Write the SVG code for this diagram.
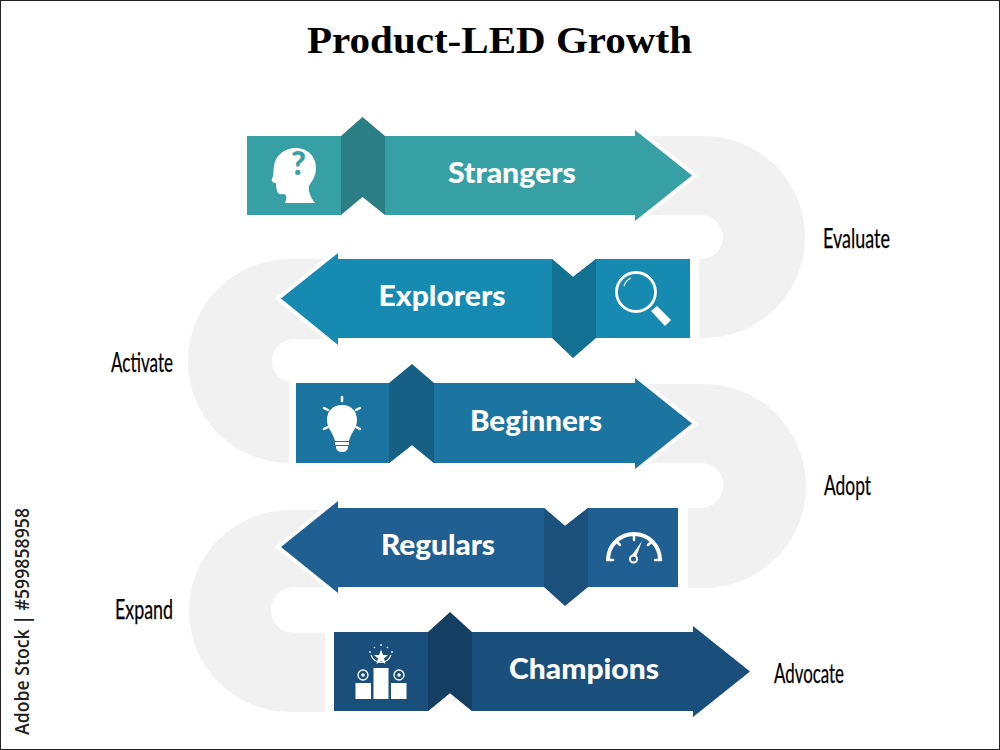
<svg xmlns="http://www.w3.org/2000/svg" width="1000" height="750" viewBox="0 0 1000 750">
<style>
.band{fill:#f1f1f1}
.gap{fill:#fff}
.halo{stroke:#fff;stroke-width:8;stroke-linejoin:miter;fill:#fff}
.lbl{font-family:"Lato","Liberation Sans",sans-serif;font-weight:900;font-size:28px;fill:#fff;text-anchor:middle}
.side{font-family:"Lato","Liberation Sans",sans-serif;font-size:26px;fill:#000;stroke:#000;stroke-width:.25}
.ic{fill:#fff}
.ln{fill:none;stroke:#fff;stroke-width:2.500;stroke-linecap:round}
</style>
<rect x="0" y="0" width="1000" height="750" fill="#fff"/>
<g id="connectors">
<path class="band" d="M640 136H704A101 101 0 0 1 704 338H699V259H701A22 22 0 0 0 701 215H640Z"/>
<path class="band" d="M345 259H290A102 102 0 0 0 290 463H289V383H294A22 22 0 0 1 294 339H345Z"/>
<path class="band" d="M640 384H704A102 102 0 0 1 704 588H688V508H701A22.500 22.500 0 0 0 701 463H640Z"/>
<path class="band" d="M345 510H290A101 101 0 0 0 290 712H325V633H294A23 23 0 0 1 294 587H345Z"/>
</g>
<g id="title"><text x="499.500" y="53" text-anchor="middle" font-family="'Liberation Serif',serif" font-weight="700" font-size="38" textLength="385" lengthAdjust="spacingAndGlyphs" fill="#000">Product-LED Growth</text></g>

<g id="strangers">
<polygon class="halo" points="600,136 635,136 635,130 692,175.500 635,221 635,215 600,215"/>
<polygon fill="#37a0a4" points="247,136 341,136 341,215 247,215"/>
<polygon fill="#37a0a4" points="385,136 635,136 635,130 692,175.500 635,221 635,215 385,215"/>
<polygon fill="#2b7f84" points="341,136 362.500,117 385,136 385,215 362.500,197 341,215"/>
<path class="ic" d="M272 179C274 175 273 172 274 166C275 155 285 148 296 148C308 148 316 157 316 168C316 177 311 182 309 186C308 190 310 197 315 203H285C287 198 287 195 284 194C280 195 277 194 277 190C276 188 276 186 276 183C273 183 271 181 272 179Z"/>
<text x="298.500" y="175" text-anchor="middle" font-family="Lato,'Liberation Sans',sans-serif" font-weight="900" font-size="32" fill="#37a0a4">?</text>
<text class="lbl" x="512" y="183" textLength="128" lengthAdjust="spacingAndGlyphs">Strangers</text>
</g>

<g id="explorers">
<polygon class="halo" points="690,259 338,259 338,253 281,298.500 338,345 338,338 690,338"/>
<polygon fill="#168ab0" points="690,259 338,259 338,253 281,298.500 338,345 338,338 690,338"/>
<polygon fill="#fff" points="552,259 573,277 596,259"/>
<polygon fill="#127093" points="552,259 573,277 596,259 596,338 573,358 552,338"/>
<circle cx="636" cy="292" r="19.500" fill="none" stroke="#fff" stroke-width="2.800"/>
<path d="M624 286A13 13 0 0 1 631 278" fill="none" stroke="#fff" stroke-width="1.200"/>
<polygon class="ic" points="651,311 657,306 671,320 665,326"/>
<text class="lbl" x="442" y="306" textLength="127" lengthAdjust="spacingAndGlyphs">Explorers</text>
</g>

<g id="beginners">
<polygon class="halo" points="296,383 389,383 412,364 434,383 635,383 635,378 692,423.500 635,469 635,463 296,463"/>
<polygon fill="#1b75a0" points="296,383 635,383 635,378 692,423.500 635,469 635,463 296,463"/>
<polygon fill="#fff" points="389,463 412,445 434,463"/>
<polygon fill="#165f85" points="389,383 412,364 434,383 434,463 412,445 389,463"/>
<path class="ic" d="M342 405C351 405 357 411 357 420C357 429 351 432 349 441H335C333 432 327 429 327 420C327 411 333 405 342 405Z"/>
<rect class="ic" x="335" y="442" width="14" height="3"/>
<path class="ic" d="M336 446H348V448C347 451 345 452 342 452C339 452 337 451 336 448Z"/>
<path class="ln" d="M342 397V401M324 408L328 410M360 408L356 410M324 429L328 427M360 429L356 427" stroke-width="2"/>
<text class="lbl" x="536" y="431" textLength="132" lengthAdjust="spacingAndGlyphs">Beginners</text>
</g>

<g id="regulars">
<polygon class="halo" points="678,508 338,508 338,501 281,547 338,593 338,587 678,587"/>
<polygon fill="#1f5f92" points="678,508 338,508 338,501 281,547 338,593 338,587 678,587"/>
<polygon fill="#fff" points="544,508 565,526 588,508"/>
<polygon fill="#1a5079" points="544,508 565,526 588,508 588,587 565,606 544,587"/>
<path d="M608 560A26 26 0 0 1 660 560" fill="none" stroke="#fff" stroke-width="4"/>
<path class="ln" d="M607 560H613M655 560H661M634 534V540M616 541L620 545M652 541L648 545" stroke-linecap="butt"/>
<polygon class="ic" points="642,541 636,557 632,555"/>
<circle cx="633.500" cy="559" r="3.500" fill="#1f5f92" stroke="#fff" stroke-width="2"/>
<text class="lbl" x="438" y="555" textLength="114" lengthAdjust="spacingAndGlyphs">Regulars</text>
</g>

<g id="champions">
<polygon class="halo" points="334,632 428,632 450,612 472,632 693,632 693,626 750,671.500 693,717 693,711 334,711"/>
<polygon fill="#1a4f7c" points="334,632 693,632 693,626 750,671.500 693,717 693,711 334,711"/>
<polygon fill="#fff" points="428,711 450,693 472,711"/>
<polygon fill="#153f62" points="428,632 450,612 472,632 472,711 450,693 428,711"/>
<polygon class="ic" points="381,649.500 383,655 388,655 384,658.500 385.500,664 381,661 376.500,664 378,658.500 374,655 379,655"/>
<path d="M371 655A10.500 10.500 0 0 0 391 655M370 653V651M392 653V651M374 648L375 647M388 648L387 647M381 644V646" fill="none" stroke="#fff" stroke-width="1.300"/>
<rect class="ic" x="373.500" y="668" width="15" height="31"/>
<rect class="ic" x="355.500" y="683" width="15.500" height="16"/>
<rect class="ic" x="391" y="683" width="15.500" height="16"/>
<circle cx="363" cy="675" r="5" fill="none" stroke="#fff" stroke-width="1.300"/><circle cx="363" cy="675" r="1.800" class="ic"/>
<circle cx="399" cy="675" r="5" fill="none" stroke="#fff" stroke-width="1.300"/><circle cx="399" cy="675" r="1.800" class="ic"/>
<text class="lbl" x="584" y="679" textLength="150" lengthAdjust="spacingAndGlyphs">Champions</text>
</g>

<g id="labels">
<text class="side" x="823" y="248" textLength="67" lengthAdjust="spacingAndGlyphs">Evaluate</text>
<text class="side" x="111" y="372" textLength="62" lengthAdjust="spacingAndGlyphs">Activate</text>
<text class="side" x="824" y="495" textLength="47" lengthAdjust="spacingAndGlyphs">Adopt</text>
<text class="side" x="115" y="619" textLength="58" lengthAdjust="spacingAndGlyphs">Expand</text>
<text class="side" x="774" y="683" textLength="70" lengthAdjust="spacingAndGlyphs">Advocate</text>
</g>
<text transform="translate(29,735) rotate(-90)" x="0" y="0" font-family="'Open Sans','Liberation Sans',sans-serif" font-weight="600" font-size="19" fill="#222" textLength="227" lengthAdjust="spacingAndGlyphs">Adobe Stock | #599858958</text>
<rect x="0.500" y="0.500" width="999" height="749" fill="none" stroke="#222" stroke-width="1"/>
</svg>
